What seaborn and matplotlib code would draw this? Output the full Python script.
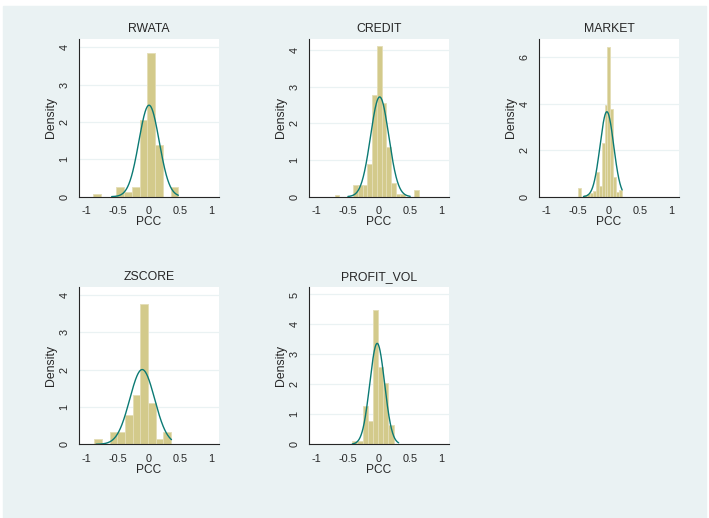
import numpy as np
import pandas as pd
import matplotlib
matplotlib.use("Agg")
import matplotlib.pyplot as plt
import seaborn as sns

# histogram bins (start, width) and densities
panel_titles = ["RWATA", "CREDIT", "MARKET", "ZSCORE", "PROFIT_VOL"]

rwata_start, rwata_width = -0.895, 0.124
rwata_heights = [0.07, 0, 0, 0.25, 0.13, 0.25, 2.05, 3.85, 1.37, 0, 0.25]

credit_start, credit_width = -0.715, 0.0755
credit_heights = [0.04, 0, 0, 0, 0.33, 0.33, 0.33, 0.9, 2.78, 4.1, 2.55,
                  1.35, 0.38, 0.07, 0.07, 0, 0, 0.17]

market_start, market_width = -0.5, 0.0475
market_heights = [0.37, 0, 0.07, 0.12, 0.17, 0.26, 1.08, 0.46, 2.3, 3.96,
                  6.45, 3.77, 0.86, 0.22, 0.29]

zscore_start, zscore_width = -0.876, 0.123
zscore_heights = [0.15, 0, 0.32, 0.32, 0.78, 1.32, 3.75, 1.1, 0.15, 0.32]

profit_start, profit_width = -0.432, 0.0833
profit_heights = [0.12, 0.12, 1.27, 0.78, 4.47, 2.57, 2.03, 0.65]

# normal overlay: mean, sd, plotted range
normal_mean = [0.0, 0.01, -0.035, -0.11, -0.03]
normal_sd = [0.163, 0.1467, 0.109, 0.1995, 0.1184]
normal_range = [(-0.6, 0.47), (-0.5, 0.5), (-0.41, 0.21), (-0.85, 0.36), (-0.43, 0.315)]

y_ticks = [[0, 1, 2, 3, 4], [0, 1, 2, 3, 4], [0, 2, 4, 6], [0, 1, 2, 3, 4], [0, 1, 2, 3, 4, 5]]
y_tops = [4.21, 4.29, 6.78, 4.2, 5.24]
x_ticks = [-1, -0.5, 0, 0.5, 1]
x_ticklabels = ["-1", "-0.5", "0", "0.5", "1"]

hist_specs = [
    (rwata_start, rwata_width, rwata_heights),
    (credit_start, credit_width, credit_heights),
    (market_start, market_width, market_heights),
    (zscore_start, zscore_width, zscore_heights),
    (profit_start, profit_width, profit_heights),
]

sns.set_style("white")
plt.rcParams['font.family'] = ['Liberation Sans', 'DejaVu Sans']
plt.rcParams['axes.unicode_minus'] = False

BG = "#EAF2F3"
BAR = "#D3CA8B"
BAR_EDGE = "#E4DDB6"
LINE = "#0B7A74"
INK = "#262626"

fig = plt.figure(figsize=(7.09, 5.18), dpi=100)
fig.patch.set_facecolor("white")
# light blue graph region with small white border top/left
fig.add_artist(plt.Rectangle((3 / 709, 0), 703 / 709, 512 / 518,
                             transform=fig.transFigure, color=BG, zorder=-10))

lefts = [79.3, 309.3, 539.3, 79.3, 309.3]
bottoms_px = [196.7, 196.7, 196.7, 444.3, 444.3]
tops_px = [39.3, 39.3, 39.3, 287.3, 287.3]
W, H = 709, 518

for i, title in enumerate(panel_titles):
    left = lefts[i] / W
    bottom = (H - bottoms_px[i]) / H
    height = (bottoms_px[i] - tops_px[i]) / H
    ax = fig.add_axes([left, bottom, 139.5 / W, height])
    ax.set_facecolor("white")

    start, width, heights = hist_specs[i]
    n = len(heights)
    edges = start + width * np.arange(n + 1)
    df = pd.DataFrame({"pcc": (edges[:-1] + edges[1:]) / 2, "density": heights})
    sns.histplot(data=df, x="pcc", weights="density", bins=n,
                 binrange=(edges[0], edges[-1]), stat="count", ax=ax,
                 color=BAR, edgecolor=BAR_EDGE, linewidth=0.6, alpha=1, zorder=2)

    lo, hi = normal_range[i]
    xs = np.linspace(lo, hi, 200)
    mu, sd = normal_mean[i], normal_sd[i]
    ys = np.exp(-0.5 * ((xs - mu) / sd) ** 2) / (sd * np.sqrt(2 * np.pi))
    sns.lineplot(x=xs, y=ys, ax=ax, color=LINE, linewidth=1.0, zorder=3)

    ax.set_xlim(-1.12, 1.12)
    ax.set_ylim(0, y_tops[i])
    ax.set_xticks(x_ticks)
    ax.set_xticklabels(x_ticklabels)
    ax.set_yticks(y_ticks[i])
    ax.set_yticklabels([str(t) for t in y_ticks[i]])
    ax.grid(axis="y", color=BG, linewidth=0.9, zorder=0)
    ax.set_axisbelow(True)

    for s in ["top", "right"]:
        ax.spines[s].set_visible(False)
    for s in ["left", "bottom"]:
        ax.spines[s].set_color(INK)
        ax.spines[s].set_linewidth(0.8)

    ax.tick_params(axis="both", direction="out", length=4, width=0.8,
                   color=INK, labelsize=7.8, labelcolor=INK)
    ax.tick_params(axis="x", pad=3)
    ax.tick_params(axis="y", pad=3)
    for lab in ax.get_yticklabels():
        lab.set_rotation(90)
        lab.set_va("center")
        lab.set_ha("right")

    ax.set_xlabel("PCC", fontsize=8.6, color=INK, labelpad=0)
    ax.set_ylabel("Density", fontsize=8.8, color=INK, labelpad=2)
    ax.set_title(title, fontsize=8.8, color=INK, pad=5.5)

fig.savefig("out.png", dpi=100, facecolor=fig.get_facecolor())
